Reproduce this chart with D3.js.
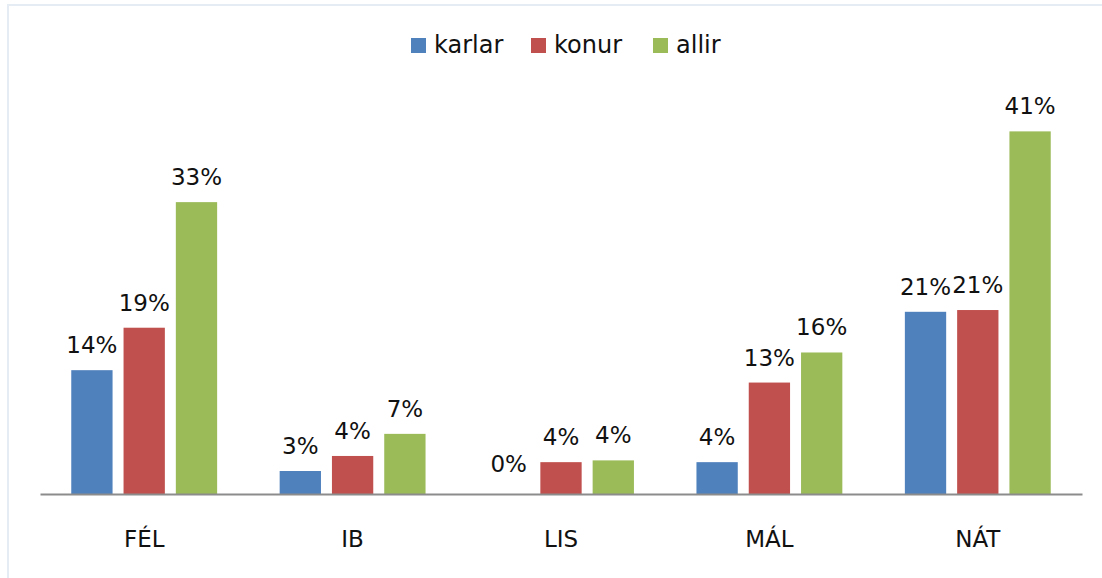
<!DOCTYPE html>
<html>
<head>
<meta charset="utf-8">
<script src="https://cdn.jsdelivr.net/npm/d3@7"></script>
<style>
  body{margin:0;background:#fff;}
  svg text{font-family:"DejaVu Sans",Verdana,sans-serif;fill:#111;}
</style>
</head>
<body>
<svg id="chart" width="1102" height="578"></svg>
<script>
const categories=['FÉL','IB','LIS','MÁL','NÁT'];
const seriesNames=['karlar','konur','allir'];
const karlar=[14.0,2.6,0,3.6,20.6];
const konur=[18.8,4.3,3.6,12.6,20.8];
const allir=[33.0,6.8,3.8,16.0,41.0];
const colors=['#4F81BD','#C0504D','#9BBB59'];

const plotLeft=40,plotRight=1082,base=494,plotTop=96;
const series=[karlar,konur,allir];

const svg=d3.select('#chart');

// outer frame
svg.append('rect')
  .attr('x',8).attr('y',5).attr('width',1110).attr('height',600)
  .attr('fill','none').attr('stroke','#e6ecf4').attr('stroke-width',2);

const x0=d3.scaleBand().domain(categories).range([plotLeft,plotRight]).paddingInner(0.3).paddingOuter(0.15);
const x1=d3.scaleBand().domain(seriesNames).range([0,x0.bandwidth()]).paddingInner(0.21);
const y=d3.scaleLinear().domain([0,45]).range([base,plotTop]);

const rows=categories.map((c,i)=>({cat:c,vals:seriesNames.map((s,j)=>({s:s,j:j,v:series[j][i]}))}));

const g=svg.append('g');
const groups=g.selectAll('g.grp')
  .data(rows)
  .join('g')
  .attr('class','grp')
  .attr('transform',d=>`translate(${x0(d.cat)},0)`);

groups.selectAll('rect')
  .data(d=>d.vals)
  .join('rect')
  .attr('x',d=>x1(d.s))
  .attr('y',d=>y(d.v))
  .attr('width',x1.bandwidth())
  .attr('height',d=>base-y(d.v))
  .attr('fill',d=>colors[d.j]);

const fmt=d3.format('.0f');
groups.selectAll('text.lbl')
  .data(d=>d.vals)
  .join('text')
  .attr('class','lbl')
  .attr('x',d=>x1(d.s)+x1.bandwidth()/2)
  .attr('y',d=>y(d.v)-(d.v===0?22:17))
  .attr('text-anchor','middle')
  .style('font-size','23px')
  .text(d=>fmt(d.v)+'%');

// axis
const axis=svg.append('g').attr('transform',`translate(0,${base})`)
  .call(d3.axisBottom(x0).tickSize(0).tickPadding(0));
axis.select('.domain').attr('stroke','#8c8c8c').attr('stroke-width',2);
axis.selectAll('.tick text')
  .attr('y',53).attr('dy',0)
  .style('font-size','23px')
  .style('font-family','"DejaVu Sans",Verdana,sans-serif')
  .style('fill','#111');

// legend
const legX=[411,531,653];
const leg=svg.append('g');
seriesNames.forEach((s,j)=>{
  leg.append('rect').attr('x',legX[j]).attr('y',38).attr('width',15).attr('height',15).attr('fill',colors[j]);
  leg.append('text').attr('x',legX[j]+23).attr('y',53).style('font-size','24px').text(s);
});
</script>
</body>
</html>
